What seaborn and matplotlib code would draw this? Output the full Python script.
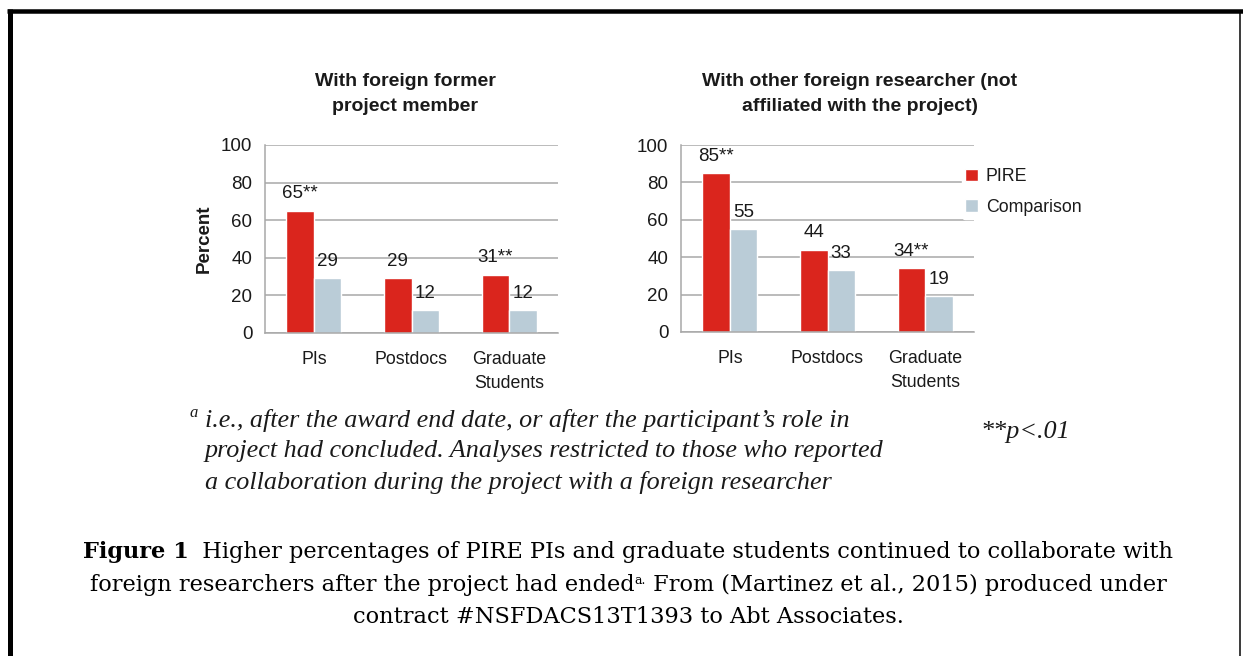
import numpy as np
import pandas as pd
import matplotlib
matplotlib.use("Agg")
import matplotlib.pyplot as plt
from matplotlib.lines import Line2D
import seaborn as sns

# ---- data ----
categories = ["PIs", "Postdocs", "Graduate\nStudents"]
series = ["PIRE", "Comparison"]
left_pire = [65, 29, 31]
left_comp = [29, 12, 12]
left_pire_labels = ["65**", "29", "31**"]
left_comp_labels = ["29", "12", "12"]
right_pire = [85, 44, 34]
right_comp = [55, 33, 19]
right_pire_labels = ["85**", "44", "34**"]
right_comp_labels = ["55", "33", "19"]
yticks = [0, 20, 40, 60, 80, 100]
left_title = "With foreign former\nproject member"
right_title = "With other foreign researcher (not\naffiliated with the project)"

RED = "#DA251D"
BLUE = "#BACCD7"
GRID = "#A8A8A8"
TXT = "#1a1a1a"

sns.set_style("white")
SANS = ["Liberation Sans", "DejaVu Sans"]
SERIF = ["Liberation Serif", "DejaVu Serif"]
CAPSERIF = ["DejaVu Serif"]
plt.rcParams["font.family"] = SANS

W, H = 1243, 656
fig = plt.figure(figsize=(W / 100, H / 100), dpi=100)
fig.patch.set_facecolor("white")
FS = 12.8


def make_df(p, c):
    return pd.DataFrame({
        "cat": categories * 2,
        "series": [series[0]] * 3 + [series[1]] * 3,
        "value": list(p) + list(c),
    })


def ax_rect(x0, x1, ytop, ybot):
    return [x0 / W, 1 - ybot / H, (x1 - x0) / W, (ybot - ytop) / H]


def draw_panel(rect, p, c, pl, cl, title, title_x, legend):
    ax = fig.add_axes(rect)
    df = make_df(p, c)
    sns.barplot(data=df, x="cat", y="value", hue="series", hue_order=series,
                order=categories, palette=[RED, BLUE], saturation=1,
                width=0.56, ax=ax, legend=legend)
    ax.set_ylim(0, 100)
    ax.set_xlim(-0.5, 2.5)
    ax.set_yticks(yticks)
    ax.set_axisbelow(True)
    ax.yaxis.grid(True, color=GRID, lw=1.1)
    ax.xaxis.grid(False)
    for s in ["top", "right"]:
        ax.spines[s].set_visible(False)
    for s in ["left", "bottom"]:
        ax.spines[s].set_color(GRID)
        ax.spines[s].set_linewidth(1.1)
    ax.tick_params(axis="y", which="major", length=5, width=1.1, color=GRID,
                   labelsize=13.5, labelcolor=TXT, pad=4)
    ax.tick_params(axis="x", which="major", length=0, labelsize=FS,
                   labelcolor=TXT, pad=13)
    ax.set_xticks([-0.5, 0.5, 1.5, 2.5], minor=True)
    ax.tick_params(axis="x", which="minor", length=5, width=1.1, color=GRID)
    for lab in ax.get_xticklabels():
        lab.set_linespacing(1.55)
    ax.set_xlabel("")
    ax.set_ylabel("")
    for cont, labs in zip(ax.containers, [pl, cl]):
        ax.bar_label(cont, labels=labs, padding=6, fontsize=13.5, color=TXT)
    fig.text(title_x / W, 1 - 94 / H, title, fontsize=14, fontweight="bold",
             color=TXT, ha="center", va="center", linespacing=1.65)
    return ax


axL = draw_panel(ax_rect(265, 558, 145, 333), left_pire, left_comp,
                 left_pire_labels, left_comp_labels, left_title, 405, False)
axL.set_ylabel("Percent", fontsize=13.5, fontweight="bold", color=TXT,
               labelpad=6)

axR = draw_panel(ax_rect(681, 974, 145, 332), right_pire, right_comp,
                 right_pire_labels, right_comp_labels, right_title, 860, True)
leg = axR.legend(loc="upper left", bbox_to_anchor=(953 / W, 1 - 156 / H),
                 bbox_transform=fig.transFigure, frameon=True, fontsize=FS,
                 handlelength=0.7, handleheight=0.7, handletextpad=0.45,
                 labelspacing=0.75, borderpad=0.2)
leg.get_frame().set_facecolor("white")
leg.get_frame().set_edgecolor("white")
leg.get_frame().set_alpha(1)
for t in leg.get_texts():
    t.set_color(TXT)

# ---- footnote ----
fs_fn = 18.8
fig.text(190 / W, 1 - 413 / H, "a", fontsize=12, style="italic",
         family=SERIF, color=TXT, va="center")
fn_lines = [
    "i.e., after the award end date, or after the participant\u2019s role in",
    "project had concluded. Analyses restricted to those who reported",
    "a collaboration during the project with a foreign researcher",
]
for i, ln in enumerate(fn_lines):
    fig.text(205 / W, 1 - (420 + i * 31.5) / H, ln, fontsize=fs_fn,
             style="italic", family=SERIF, color=TXT, va="center")
fig.text(980 / W, 1 - 432 / H, "**p<.01", fontsize=fs_fn, style="italic",
         family=SERIF, color=TXT, va="center")

# ---- caption ----
renderer = fig.canvas.get_renderer()


def centered_pieces(y_px, pieces, cx=628):
    objs = []
    for txt, kw in pieces:
        t = fig.text(0, 1 - y_px / H, txt, va="baseline", family=CAPSERIF,
                     color="black", **kw)
        objs.append(t)
    widths = [o.get_window_extent(renderer).width for o in objs]
    total = sum(widths)
    x = cx - total / 2
    for o, w in zip(objs, widths):
        o.set_x(x / W)
        x += w
    return objs


fs_cap = 16.2
centered_pieces(558, [("Figure 1", dict(fontsize=fs_cap, fontweight="bold")),
                      ("  Higher percentages of PIRE PIs and graduate students "
                       "continued to collaborate with", dict(fontsize=fs_cap))])
ob = centered_pieces(591, [("foreign researchers after the project had ended",
                            dict(fontsize=fs_cap)),
                           ("a.", dict(fontsize=9)),
                           (" From (Martinez et al., 2015) produced under",
                            dict(fontsize=fs_cap))])
ob[1].set_y(1 - 584 / H)
centered_pieces(623, [("contract #NSFDACS13T1393 to Abt Associates.",
                       dict(fontsize=fs_cap))])

# ---- border ----
def px_line(x0, y0, x1, y1, lw_px, color="black"):
    fig.add_artist(Line2D([x0 / W, x1 / W], [1 - y0 / H, 1 - y1 / H],
                          transform=fig.transFigure, color=color,
                          lw=lw_px * 0.72, solid_capstyle="butt"))


px_line(7, 11, W, 11, 4.5)
px_line(9.5, 9, 9.5, H, 5)
px_line(1240, 11, 1240, H, 1.5)

fig.savefig("out.png", dpi=100, facecolor="white")
